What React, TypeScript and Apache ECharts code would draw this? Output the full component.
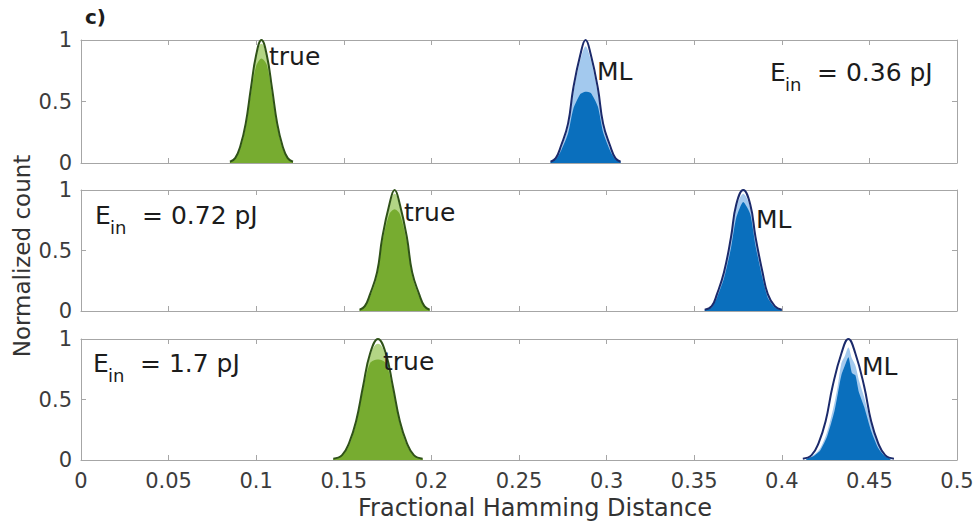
import React, { useEffect, useRef } from "react";
import * as echarts from "echarts";

// ---- Data ----
const xTicks = [0, 0.05, 0.1, 0.15, 0.2, 0.25, 0.3, 0.35, 0.4, 0.45, 0.5];
const yTicks = [0, 0.5, 1];

// Panel 1 (E_in = 0.36 pJ)
const p1TrueX = [0.085, 0.088, 0.091, 0.094, 0.097, 0.1, 0.103, 0.106, 0.109, 0.112, 0.115, 0.118, 0.121];
const p1TrueFit = [0.01, 0.04, 0.14, 0.32, 0.61, 0.88, 1.0, 0.88, 0.61, 0.32, 0.14, 0.04, 0.01];
const p1TrueHi = [0.01, 0.04, 0.13, 0.31, 0.6, 0.86, 0.97, 0.86, 0.6, 0.31, 0.13, 0.04, 0.01];
const p1TrueLo = [0.01, 0.04, 0.12, 0.29, 0.56, 0.79, 0.85, 0.8, 0.56, 0.29, 0.12, 0.04, 0.01];
const p1MLX = [0.268, 0.271, 0.274, 0.278, 0.281, 0.285, 0.288, 0.291, 0.295, 0.298, 0.302, 0.305, 0.308];
const p1MLFit = [0.01, 0.04, 0.14, 0.32, 0.61, 0.88, 1.0, 0.88, 0.61, 0.32, 0.14, 0.04, 0.01];
const p1MLHi = [0.01, 0.04, 0.12, 0.29, 0.57, 0.84, 0.95, 0.84, 0.57, 0.29, 0.12, 0.04, 0.01];
const p1MLLo = [0.01, 0.03, 0.1, 0.24, 0.44, 0.56, 0.58, 0.57, 0.46, 0.25, 0.1, 0.03, 0.01];

// Panel 2 (E_in = 0.72 pJ)
const p2TrueX = [0.159, 0.162, 0.165, 0.169, 0.172, 0.176, 0.179, 0.182, 0.186, 0.189, 0.193, 0.196, 0.199];
const p2TrueFit = [0.01, 0.04, 0.14, 0.32, 0.61, 0.88, 1.0, 0.88, 0.61, 0.32, 0.14, 0.04, 0.01];
const p2TrueHi = [0.01, 0.04, 0.13, 0.31, 0.6, 0.86, 0.97, 0.86, 0.6, 0.31, 0.13, 0.04, 0.01];
const p2TrueLo = [0.01, 0.04, 0.12, 0.29, 0.57, 0.8, 0.84, 0.8, 0.57, 0.29, 0.12, 0.04, 0.01];
const p2MLX = [0.356, 0.36, 0.363, 0.367, 0.371, 0.374, 0.378, 0.382, 0.385, 0.389, 0.392, 0.396, 0.4];
const p2MLFit = [0.01, 0.04, 0.14, 0.32, 0.61, 0.88, 1.0, 0.88, 0.61, 0.32, 0.14, 0.04, 0.01];
const p2MLHi = [0.01, 0.04, 0.13, 0.3, 0.59, 0.86, 0.97, 0.86, 0.59, 0.3, 0.13, 0.04, 0.01];
const p2MLLo = [0.01, 0.03, 0.11, 0.27, 0.52, 0.77, 0.9, 0.8, 0.54, 0.27, 0.11, 0.03, 0.01];

// Panel 3 (E_in = 1.7 pJ)
const p3TrueX = [0.144, 0.149, 0.153, 0.157, 0.161, 0.165, 0.1695, 0.174, 0.178, 0.182, 0.186, 0.19, 0.195];
const p3TrueFit = [0.01, 0.04, 0.14, 0.32, 0.61, 0.88, 1.0, 0.88, 0.61, 0.32, 0.14, 0.04, 0.01];
const p3TrueHi = [0.01, 0.04, 0.13, 0.31, 0.6, 0.86, 0.96, 0.86, 0.6, 0.31, 0.13, 0.04, 0.01];
const p3TrueLo = [0.01, 0.04, 0.12, 0.3, 0.58, 0.8, 0.83, 0.8, 0.58, 0.3, 0.12, 0.04, 0.01];
const p3MLX = [0.412, 0.417, 0.421, 0.425, 0.429, 0.434, 0.438, 0.442, 0.447, 0.451, 0.455, 0.459, 0.464];
const p3MLFit = [0.01, 0.04, 0.14, 0.32, 0.61, 0.88, 1.0, 0.88, 0.61, 0.32, 0.14, 0.04, 0.01];
const p3MLHiX = [0.414, 0.418, 0.422, 0.426, 0.43, 0.432, 0.434, 0.436, 0.438, 0.44, 0.442, 0.444, 0.447, 0.451, 0.455, 0.459, 0.462];
const p3MLHi = [0.01, 0.04, 0.1, 0.24, 0.47, 0.62, 0.8, 0.86, 0.93, 0.84, 0.78, 0.66, 0.52, 0.3, 0.13, 0.04, 0.01];
const p3MLLo = [0.01, 0.03, 0.08, 0.2, 0.4, 0.55, 0.7, 0.78, 0.85, 0.72, 0.7, 0.56, 0.44, 0.24, 0.1, 0.03, 0.01];

const panelLabels = ["0.36 pJ", "0.72 pJ", "1.7 pJ"];
const xTitle = "Fractional Hamming Distance";
const yTitle = "Normalized count";

// ---- Styles ----
const GREEN = "#77ac30";
const GREEN_LIGHT = "#b3d585";
const GREEN_LINE = "#2f5218";
const BLUE = "#0a6fbd";
const BLUE_LIGHT = "#a3c9ee";
const BLUE_LINE = "#1b2a6b";
const AXIS = "#a6a6a6";
const TICK_TEXT = "#3c3c3c";
const TEXT = "#1c1c1c";
const FONT = "DejaVu Sans";

const grids = [
  { left: 81, width: 876, top: 40, height: 123 },
  { left: 81, width: 876, top: 190, height: 121 },
  { left: 81, width: 876, top: 339, height: 121 },
];

const zip = (xs: number[], ys: number[]) => xs.map((x, i) => [x, ys[i]]);

const panels = [
  { tx: p1TrueX, tFit: p1TrueFit, tHi: p1TrueHi, tLo: p1TrueLo, mx: p1MLX, mFit: p1MLFit, mHiX: p1MLX, mHi: p1MLHi, mLoX: p1MLX, mLo: p1MLLo },
  { tx: p2TrueX, tFit: p2TrueFit, tHi: p2TrueHi, tLo: p2TrueLo, mx: p2MLX, mFit: p2MLFit, mHiX: p2MLX, mHi: p2MLHi, mLoX: p2MLX, mLo: p2MLLo },
  { tx: p3TrueX, tFit: p3TrueFit, tHi: p3TrueHi, tLo: p3TrueLo, mx: p3MLX, mFit: p3MLFit, mHiX: p3MLHiX, mHi: p3MLHi, mLoX: p3MLHiX, mLo: p3MLLo },
];

function buildOption() {
  const xAxis: any[] = [];
  const yAxis: any[] = [];
  const series: any[] = [];
  grids.forEach((_, i) => {
    const common = {
      gridIndex: i,
      type: "value",
      min: xTicks[0],
      max: xTicks[xTicks.length - 1],
      interval: 0.05,
      splitLine: { show: false },
      axisLine: { show: true, onZero: false, lineStyle: { color: AXIS, width: 1 } },
      axisTick: { show: true, inside: true, length: 5, lineStyle: { color: AXIS } },
    };
    xAxis.push({
      ...common,
      position: "bottom",
      axisLabel: {
        show: i === 2,
        margin: 10,
        color: TICK_TEXT,
        fontFamily: FONT,
        fontSize: 21,
      },
    });
    xAxis.push({ ...common, position: "top", axisLabel: { show: false } });
    const ycommon = {
      gridIndex: i,
      type: "value",
      min: yTicks[0],
      max: yTicks[yTicks.length - 1],
      interval: 0.5,
      splitLine: { show: false },
      axisLine: { show: true, onZero: false, lineStyle: { color: AXIS, width: 1 } },
      axisTick: { show: true, inside: true, length: 5, lineStyle: { color: AXIS } },
    };
    yAxis.push({
      ...ycommon,
      position: "left",
      axisLabel: { show: true, margin: 9, color: TICK_TEXT, fontFamily: FONT, fontSize: 21 },
    });
    yAxis.push({ ...ycommon, position: "right", axisLabel: { show: false } });

    const p = panels[i];
    const ax = { xAxisIndex: 2 * i, yAxisIndex: 2 * i };
    const area = (data: number[][], color: string, z: number, smooth: number) => ({
      type: "line",
      ...ax,
      data,
      smooth,
      symbol: "none",
      z,
      lineStyle: { width: 0, color },
      areaStyle: { color, opacity: 1 },
      silent: true,
    });
    const fit = (data: number[][], color: string) => ({
      type: "line",
      ...ax,
      data,
      smooth: 0.45,
      symbol: "none",
      z: 10,
      clip: false,
      lineStyle: { width: 2, color },
      silent: true,
    });
    series.push(area(zip(p.tx, p.tHi), GREEN_LIGHT, 2, 0.45));
    series.push(area(zip(p.tx, p.tLo), GREEN, 3, 0.3));
    series.push(fit(zip(p.tx, p.tFit), GREEN_LINE));
    series.push(area(zip(p.mHiX, p.mHi), BLUE_LIGHT, 2, 0.3));
    series.push(area(zip(p.mLoX, p.mLo), BLUE, 3, 0.2));
    series.push(fit(zip(p.mx, p.mFit), BLUE_LINE));
  });

  const annoFont = { fontFamily: FONT, fontSize: 25, fill: TEXT, verticalAlign: "middle", align: "left" };
  const t = (x: number, y: number, text: string, extra: any = {}) => ({
    type: "text",
    x,
    y,
    z: 100,
    style: { ...annoFont, text, ...extra },
  });
  const ein = (x: number, y: number, val: string) => [
    t(x, y, "E"),
    t(x + 15, y + 12, "in", { fontSize: 18 }),
    t(x + 47, y, "= " + val),
  ];

  const graphic: any[] = [
    t(85, 17, "c)", { fontWeight: "bold", fontSize: 20 }),
    // panel 1
    t(269, 56, "true"),
    t(597, 71, "ML"),
    ...ein(770, 72, panelLabels[0]),
    // panel 2
    t(404, 212, "true"),
    t(756, 219, "ML"),
    ...ein(95, 215, panelLabels[1]),
    // panel 3
    t(383, 361, "true"),
    t(862, 366, "ML"),
    ...ein(93, 363, panelLabels[2]),
    // axis titles
    t(535, 508, xTitle, { align: "center", fontSize: 24, fill: "#333" }),
    {
      type: "text",
      x: 22,
      y: 256,
      rotation: Math.PI / 2,
      z: 100,
      style: { text: yTitle, fontFamily: FONT, fontSize: 23, fill: "#333", align: "center", verticalAlign: "middle" },
    },
  ];

  return {
    animation: false,
    backgroundColor: "#ffffff",
    grid: grids.map((g) => ({ ...g, containLabel: false })),
    xAxis,
    yAxis,
    series,
    graphic,
  };
}

export default function App() {
  const ref = useRef<HTMLDivElement>(null);
  useEffect(() => {
    if (!ref.current) return;
    const chart = echarts.init(ref.current, undefined, { renderer: "svg" });
    chart.setOption(buildOption() as any);
    return () => chart.dispose();
  }, []);
  return (
    <div
      ref={ref}
      style={{ position: "fixed", left: 0, top: 0, width: 979, height: 525, background: "#fff" }}
    />
  );
}
